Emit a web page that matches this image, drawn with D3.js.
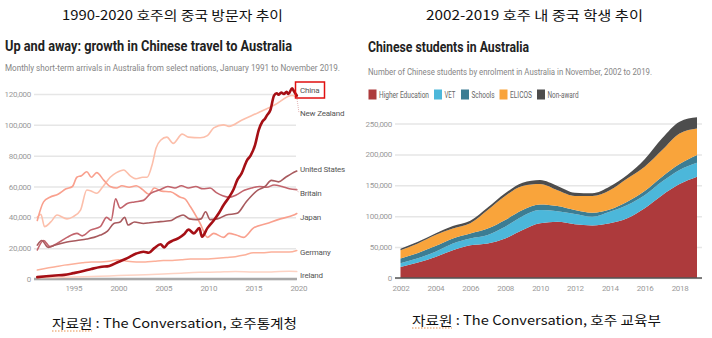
<!DOCTYPE html>
<html><head><meta charset="utf-8">
<script src="https://cdn.jsdelivr.net/npm/d3@7"></script>
<style>
body{margin:0;background:#fff;}
svg{display:block;}
</style></head><body>
<svg id="c" width="712" height="338"></svg>
<script>
// ---------- Left chart data: monthly short-term arrivals ----------
const arrivalTicksY = [0, 20000, 40000, 60000, 80000, 100000, 120000];
const arrivalTicksX = [1995, 2000, 2005, 2010, 2015, 2020];

const china = [[1991,1200],[1992,1800],[1993,2300],[1994,2700],[1995,3800],[1996,5000],[1997,6500],[1998,7800],[1999,8500],[2000,11000],[2001,13500],[2002,16500],[2002.8,17700],[2003.4,17000],[2004,20000],[2004.7,22500],[2005.1,20500],[2005.5,23000],[2006.1,25000],[2006.7,26500],[2007.3,29000],[2007.8,32000],[2008.4,29600],[2009.0,33000],[2009.3,27400],[2009.9,33000],[2010.6,38000],[2011.2,43000],[2011.7,48000],[2012.3,53000],[2012.8,58000],[2013.2,64000],[2013.7,68500],[2014.3,77000],[2014.7,80000],[2015.2,87000],[2015.6,96600],[2016.0,102000],[2016.3,104000],[2016.5,106000],[2016.9,109600],[2017.3,119000],[2017.6,120500],[2017.8,119500],[2018.1,121000],[2018.4,120000],[2018.7,121500],[2018.9,120000],[2019.3,123700],[2019.5,122000],[2019.83,119000]];
const newZealand = [[1991,40000],[1991.4,42000],[1991.8,34000],[1992.5,37000],[1993.2,41500],[1994.3,39000],[1995.0,40500],[1995.8,44700],[1996.5,57700],[1997,57000],[1997.6,55600],[1998.3,60000],[1999.1,66000],[1999.8,69000],[2000.6,70700],[2001.3,67000],[2002,65000],[2002.7,66000],[2003.2,66000],[2003.8,75000],[2004.2,85000],[2004.7,90000],[2005.4,92000],[2006.1,88000],[2007.1,94000],[2007.8,92000],[2009.1,91600],[2009.9,93000],[2010.6,98000],[2011.7,100000],[2012.3,99000],[2013.7,103000],[2015.6,108000],[2017.4,113000],[2019.3,119000],[2019.83,118000]];
const japan = [[1991,38000],[1991.7,50000],[1992.4,53000],[1993.3,55000],[1994.2,58500],[1994.9,60000],[1995.4,66000],[1995.9,67000],[1996.5,69600],[1997,66000],[1997.6,69000],[1998.4,64000],[1999.1,60000],[1999.8,59000],[2000.4,60500],[2001.2,59500],[2002,60500],[2002.7,58000],[2003.4,55000],[2004,59000],[2004.8,57000],[2005.8,56600],[2006.9,53000],[2007.4,52000],[2008,47000],[2009.1,36000],[2009.9,27000],[2010.6,29600],[2011.7,27000],[2012.3,29600],[2013.1,28500],[2013.9,27000],[2015,33000],[2016.5,36000],[2018,39000],[2019.5,41500],[2019.83,42500]];
const unitedStates = [[1991,22000],[1991.5,25000],[1992.2,20500],[1993,22000],[1994.3,24000],[1995.4,25000],[1996.5,26000],[1997.3,27000],[1998,28500],[1998.8,31000],[1999.5,36000],[2000.2,37000],[2000.7,40000],[2001.1,35000],[2001.8,37000],[2002.8,36000],[2003.5,36500],[2004.3,37000],[2005.2,37500],[2005.9,38000],[2006.5,40000],[2007.2,41500],[2007.9,39000],[2008.7,38500],[2009.2,39000],[2009.7,43600],[2010.2,38500],[2011,39000],[2012,41500],[2013.2,42600],[2014.2,50000],[2015.5,57700],[2016.3,60000],[2017,64000],[2017.8,63000],[2018.6,66000],[2019.3,68500],[2019.83,70000]];
const britain = [[1991,18800],[1991.7,25000],[1992.4,21000],[1993.2,23000],[1994.3,27000],[1995.4,29600],[1996,28000],[1996.9,31700],[1998,34000],[1998.7,40000],[1999.2,38000],[1999.7,52000],[2000.2,46000],[2001,49000],[2001.8,50000],[2002.8,51000],[2003.6,55600],[2004.7,58000],[2005.5,60000],[2006.3,59000],[2007,60500],[2007.8,59000],[2008.6,60000],[2009.4,58500],[2010.2,59000],[2010.9,56000],[2011.6,54000],[2012.3,53000],[2013.1,54500],[2014,57500],[2014.8,59000],[2015.7,60000],[2016.5,59500],[2017.3,61000],[2018.2,60000],[2019,58500],[2019.83,58000]];
const germany = [[1991,5800],[1992,7000],[1993,8000],[1994,9000],[1995,9800],[1996,10500],[1997,11000],[1998,11000],[1999,11500],[2000,12500],[2001,11500],[2002,11000],[2003,11000],[2004,11500],[2005,12000],[2006,12000],[2007,12500],[2008,13000],[2009,13000],[2010,13000],[2011,13500],[2012,14000],[2013,14500],[2014,15500],[2015,17000],[2016,17000],[2017,17500],[2018,17500],[2019,17500],[2019.83,18500]];
const ireland = [[1991,800],[1993,1000],[1995,1300],[1997,1700],[1999,2000],[2001,2500],[2003,2800],[2005,3200],[2007,3800],[2009,4300],[2011,4500],[2013,4800],[2015,4500],[2017,4600],[2019,5000],[2019.83,4800]];

const countryNames = ["Ireland","Germany","Japan","Britain","United States","New Zealand","China"];

// ---------- Right chart data: Chinese students by enrolment ----------
const studentYears = [2002,2003,2004,2005,2006,2007,2008,2009,2010,2011,2012,2013,2014,2015,2016,2017,2018,2019];
const higherEducation = [18000,25000,34000,45000,53000,56000,64000,77700,88500,91000,87000,85000,88500,96600,112800,134000,152000,164000];
const vet = [6000,7000,8600,11000,11000,13600,19000,22300,21500,17000,16500,14000,18500,21400,21200,22000,22700,22500];
const schools = [7500,8500,9200,8000,8000,10400,11000,10000,9000,8500,6500,6600,4000,5500,6800,8000,9800,12500];
const elicos = [13500,15500,17800,16000,16500,30000,38700,39000,33000,25500,22700,27000,31000,37500,39200,43000,49500,43000];
const nonAward = [2500,2500,2400,4000,4200,4000,4300,5000,6600,7000,5300,4500,6000,5700,12000,19000,19000,18000];
const studentTicksY = [0, 50000, 100000, 150000, 200000, 250000];
const studentTicksX = [2002,2004,2006,2008,2010,2012,2014,2016,2018];
const sectorNames = ["Higher Education","VET","Schools","ELICOS","Non-award"];

// ---------- Drawing ----------
const svg = d3.select("#c");
const FONT = "Roboto, 'Noto Sans', sans-serif";
const KFONT = "'Noto Sans CJK KR', sans-serif";

// headers (Korean)
svg.append("text").attr("x", 62).attr("y", 20).attr("textLength", 221).attr("lengthAdjust","spacingAndGlyphs")
  .style("font-family", KFONT).style("font-size","13px").attr("fill","#111").text("1990-2020 호주의 중국 방문자 추이");
svg.append("text").attr("x", 426).attr("y", 20).attr("textLength", 217).attr("lengthAdjust","spacingAndGlyphs")
  .style("font-family", KFONT).style("font-size","13px").attr("fill","#111").text("2002-2019 호주 내 중국 학생 추이");

// captions
svg.append("text").attr("x", 52).attr("y", 328).attr("textLength", 245).attr("lengthAdjust","spacingAndGlyphs")
  .style("font-family", KFONT).style("font-size","13px").attr("fill","#111").text("자료원 : The Conversation, 호주통계청");
svg.append("text").attr("x", 412).attr("y", 325).attr("textLength", 249).attr("lengthAdjust","spacingAndGlyphs")
  .style("font-family", KFONT).style("font-size","13px").attr("fill","#111").text("자료원 : The Conversation, 호주 교육부");
[[52,331],[412,328]].forEach(([x,y])=>{
  svg.append("line").attr("x1",x).attr("x2",x+40).attr("y1",y).attr("y2",y)
    .attr("stroke","#e8904a").attr("stroke-width",1).attr("stroke-dasharray","1.5,1.5");
});

// ===== Left chart =====
const L = {left:34, right:296, top:94, bottom:279};
svg.append("text").attr("x",5).attr("y",50.5).attr("textLength",287).attr("lengthAdjust","spacingAndGlyphs")
  .style("font-family",FONT).style("font-weight","700").style("font-size","15px").attr("fill","#222")
  .text("Up and away: growth in Chinese travel to Australia");
svg.append("text").attr("x",5).attr("y",71).attr("textLength",335).attr("lengthAdjust","spacingAndGlyphs")
  .style("font-family",FONT).style("font-size","8.5px").attr("fill","#858585")
  .text("Monthly short-term arrivals in Australia from select nations, January 1991 to November 2019.");

const xL = d3.scaleLinear().domain([1991, 2020]).range([37.3, 298.3]);
const yL = d3.scaleLinear().domain([0, 120000]).range([L.bottom, L.top]);

const gyL = svg.append("g").attr("transform",`translate(${L.left},0)`)
  .call(d3.axisLeft(yL).tickValues(arrivalTicksY).tickSizeInner(-(L.right-L.left)).tickSizeOuter(0).tickPadding(3).tickFormat(d3.format(",")));
gyL.select(".domain").remove();
gyL.selectAll(".tick line").attr("stroke","#e6e6e6").attr("stroke-width",1.5);
gyL.selectAll(".tick text").attr("fill","#9a9a9a").style("font-family",FONT).style("font-size","8px").style("letter-spacing","-0.3px");

svg.append("line").attr("x1",L.left).attr("x2",297).attr("y1",L.bottom).attr("y2",L.bottom)
  .attr("stroke","#a8a8a8").attr("stroke-width",2.5);

const gxL = svg.append("g").attr("transform",`translate(0,${L.bottom})`)
  .call(d3.axisBottom(xL).tickValues(arrivalTicksX).tickSize(0).tickPadding(6).tickFormat(d3.format("d")));
gxL.select(".domain").remove();
gxL.selectAll(".tick text").attr("fill","#9a9a9a").style("font-family",FONT).style("font-size","8px").style("letter-spacing","-0.3px");

const lineL = d3.line().x(d=>xL(d[0])).y(d=>yL(d[1])).curve(d3.curveMonotoneX);
const seriesL = [
  {name:"Ireland", data:ireland, color:"#fdd3c4", w:1.5},
  {name:"Germany", data:germany, color:"#fcb09a", w:1.5},
  {name:"New Zealand", data:newZealand, color:"#fcbfab", w:1.6},
  {name:"Japan", data:japan, color:"#f9a08e", w:1.6},
  {name:"Britain", data:britain, color:"#c2646c", w:1.6},
  {name:"United States", data:unitedStates, color:"#a85a5e", w:1.6},
  {name:"China", data:china, color:"#a50f15", w:2.6}
];
svg.append("g").selectAll("path").data(seriesL).join("path")
  .attr("d",d=>lineL(d.data)).attr("fill","none").attr("stroke",d=>d.color)
  .attr("stroke-width",d=>d.w).attr("stroke-linejoin","round").attr("stroke-linecap","round");

// labels
const labelY = {"China":93,"New Zealand":116,"United States":172,"Britain":196,"Japan":220,"Germany":255,"Ireland":278};
countryNames.forEach(n=>{
  svg.append("text").attr("x",300).attr("y",labelY[n]).style("font-family",FONT).style("font-size","8px")
    .style("letter-spacing","-0.2px").attr("fill","#555").text(n);
});
// leaders
[[newZealand,"New Zealand"],[britain,"Britain"]].forEach(([s,n])=>{
  const last = s[s.length-1];
  svg.append("line").attr("x1",xL(last[0])).attr("y1",yL(last[1])).attr("x2",299).attr("y2",labelY[n]-3)
    .attr("stroke","#d9a0a0").attr("stroke-width",0.8).attr("stroke-dasharray","1,1");
});
svg.append("rect").attr("x",295.5).attr("y",82).attr("width",29).attr("height",16)
  .attr("fill","none").attr("stroke","#e01010").attr("stroke-width",1.5);

// ===== Right chart =====
const R = {left:395, right:702, top:123.5, bottom:278};
svg.append("text").attr("x",368).attr("y",51.5).attr("textLength",161).attr("lengthAdjust","spacingAndGlyphs")
  .style("font-family",FONT).style("font-weight","700").style("font-size","15px").attr("fill","#222")
  .text("Chinese students in Australia");
svg.append("text").attr("x",368).attr("y",74.5).attr("textLength",284).attr("lengthAdjust","spacingAndGlyphs")
  .style("font-family",FONT).style("font-size","8.5px").attr("fill","#858585")
  .text("Number of Chinese students by enrolment in Australia in November, 2002 to 2019.");

const colorsR = ["#ad3a3c","#4cb7da","#3c7d93","#f9a43b","#4d4d4d"];
const legendX = [368.5, 434, 461, 499.5, 537];
const legendW = [50, 11, 23, 22, 31];
sectorNames.forEach((n,i)=>{
  svg.append("rect").attr("x",legendX[i]).attr("y",89.5).attr("width",8).attr("height",10).attr("fill",colorsR[i]);
  svg.append("text").attr("x",legendX[i]+10.5).attr("y",98).attr("textLength",legendW[i]).attr("lengthAdjust","spacingAndGlyphs")
    .style("font-family",FONT).style("font-size","8.5px").attr("fill","#666").text(n);
});

const rows = studentYears.map((y,i)=>({year:y, "Higher Education":higherEducation[i], "VET":vet[i], "Schools":schools[i], "ELICOS":elicos[i], "Non-award":nonAward[i]}));
const stack = d3.stack().keys(sectorNames)(rows);

const xR = d3.scaleLinear().domain([2002, 2019]).range([400.5, 697]);
const yR = d3.scaleLinear().domain([0, 250000]).range([R.bottom, R.top]);

const gyR = svg.append("g").attr("transform",`translate(${R.left},0)`)
  .call(d3.axisLeft(yR).tickValues(studentTicksY).tickSizeInner(-(R.right-R.left)).tickSizeOuter(0).tickPadding(3).tickFormat(d3.format(",")));
gyR.select(".domain").remove();
gyR.selectAll(".tick line").attr("stroke","#e6e6e6").attr("stroke-width",1.5);
gyR.selectAll(".tick text").attr("fill","#9a9a9a").style("font-family",FONT).style("font-size","8px").style("letter-spacing","-0.3px");

const area = d3.area().x(d=>xR(d.data.year)).y0(d=>yR(d[0])).y1(d=>yR(d[1])).curve(d3.curveMonotoneX);
svg.append("g").selectAll("path").data(stack).join("path").attr("d",area).attr("fill",(d,i)=>colorsR[i]);

svg.append("line").attr("x1",R.left).attr("x2",R.right).attr("y1",R.bottom).attr("y2",R.bottom)
  .attr("stroke","#555").attr("stroke-width",1.5);

const gxR = svg.append("g").attr("transform",`translate(0,${R.bottom})`)
  .call(d3.axisBottom(xR).tickValues(studentTicksX).tickSize(0).tickPadding(7.5).tickFormat(d3.format("d")));
gxR.select(".domain").remove();
gxR.selectAll(".tick text").attr("fill","#9a9a9a").style("font-family",FONT).style("font-size","8px").style("letter-spacing","-0.3px");
</script></body></html>
